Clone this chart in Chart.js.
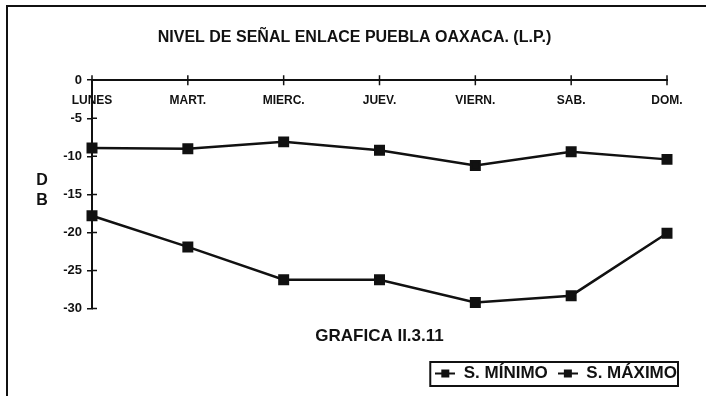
<!DOCTYPE html>
<html>
<head>
<meta charset="utf-8">
<script src="https://cdn.jsdelivr.net/npm/chart.js@4.4.1/dist/chart.umd.min.js"></script>
<style>
  html, body { margin: 0; padding: 0; background: #fff; }
  #wrap { width: 706px; height: 396px; }
</style>
</head>
<body>
<div id="wrap"><canvas id="c" width="706" height="396"></canvas></div>
<script>
// data
const days = ['LUNES', 'MART.', 'MIERC.', 'JUEV.', 'VIERN.', 'SAB.', 'DOM.'];
const sMinimo = [-17.8, -21.9, -26.2, -26.2, -29.2, -28.3, -20.1];
const sMaximo = [-8.9, -9.0, -8.1, -9.2, -11.2, -9.4, -10.4];
const yTicks = [0, -5, -10, -15, -20, -25, -30];

const FONT = "'Liberation Sans', Arial, Helvetica, sans-serif";
const INK = '#111';

// little line + square used as legend marker
function legendMark() {
  const c = document.createElement('canvas');
  c.width = 20; c.height = 10;
  const g = c.getContext('2d');
  g.fillStyle = INK;
  g.fillRect(0, 4, 20, 2);
  g.fillRect(6, 1, 8, 8);
  return c;
}
const mark = legendMark();

// white page, scan frame, "D B" title, crossing ticks, legend box
const decor = {
  id: 'decor',
  beforeDraw(chart) {
    const ctx = chart.ctx;
    ctx.save();
    ctx.fillStyle = '#fff';
    ctx.fillRect(0, 0, chart.width, chart.height);
    ctx.strokeStyle = INK;
    ctx.lineWidth = 2;
    ctx.beginPath();
    ctx.moveTo(7, chart.height);
    ctx.lineTo(7, 6);
    ctx.lineTo(chart.width, 6);
    ctx.stroke();
    ctx.restore();
  },
  afterDraw(chart) {
    const ctx = chart.ctx;
    const y = chart.scales.y;
    const x = chart.scales.x;
    ctx.save();
    ctx.strokeStyle = INK;
    ctx.lineWidth = 1.5;
    ctx.beginPath();
    yTicks.forEach(v => {
      const py = y.getPixelForValue(v);
      ctx.moveTo(y.right, py);
      ctx.lineTo(y.right + 5, py);
    });
    const y0 = y.getPixelForValue(0);
    days.forEach((d, i) => {
      const px = x.getPixelForValue(i);
      ctx.moveTo(px, y0 - 5);
      ctx.lineTo(px, y0 + 5);
    });
    ctx.stroke();

    ctx.fillStyle = INK;
    ctx.font = 'bold 16px ' + FONT;
    ctx.textAlign = 'center';
    ctx.textBaseline = 'middle';
    ctx.fillText('D', 42, 181);
    ctx.fillText('B', 42, 201);

    const boxes = chart.legend.legendHitBoxes;
    if (boxes && boxes.length) {
      const l = Math.min(...boxes.map(b => b.left)) - 5;
      const r = Math.max(...boxes.map(b => b.left + b.width)) + 1;
      const t = Math.min(...boxes.map(b => b.top)) - 3;
      const btm = Math.max(...boxes.map(b => b.top + b.height)) + 4;
      ctx.lineWidth = 2;
      ctx.strokeRect(l, t, r - l, btm - t);
    }
    ctx.restore();
  }
};

const data = {
  labels: days,
  datasets: [
    {
      label: 'S. MÍNIMO',
      data: sMinimo,
      borderColor: INK,
      backgroundColor: INK,
      borderWidth: 2.5,
      pointStyle: 'rect',
      pointRadius: 6,
      tension: 0,
    },
    {
      label: 'S. MÁXIMO',
      data: sMaximo,
      borderColor: INK,
      backgroundColor: INK,
      borderWidth: 2.5,
      pointStyle: 'rect',
      pointRadius: 6,
      tension: 0,
    },
  ],
};

const config = {
  type: 'line',
  data,
  plugins: [decor],
  options: {
    responsive: false,
    animation: false,
    layout: { padding: { left: 22, right: 19, top: 0, bottom: 4 } },
    scales: {
      x: {
        position: { y: 0 },
        offset: false,
        grid: { display: true, drawOnChartArea: false, drawTicks: false },
        border: { display: true, color: INK, width: 2 },
        ticks: {
          color: INK,
          font: { family: FONT, size: 12, weight: 'bold' },
          padding: 13,
          maxRotation: 0,
          autoSkip: false,
        },
      },
      y: {
        min: -30,
        max: 0,
        afterFit: s => { s.width = 70; },
        grid: { drawOnChartArea: false, color: INK, tickLength: 5, lineWidth: 1.5 },
        border: { display: true, color: INK, width: 2 },
        ticks: {
          stepSize: 5,
          color: INK,
          padding: 5,
          font: { family: FONT, size: 13, weight: 'bold' },
        },
      },
      yr: {
        position: 'right',
        display: true,
        afterFit: s => { s.width = 20; },
        grid: { display: false },
        border: { display: false },
        ticks: { display: false },
      },
    },
    plugins: {
      title: {
        display: true,
        text: 'NIVEL DE SEÑAL ENLACE PUEBLA OAXACA. (L.P.)',
        color: INK,
        font: { family: FONT, size: 16, weight: 'bold' },
        padding: { top: 28, bottom: 33 },
      },
      subtitle: {
        display: true,
        position: 'bottom',
        weight: 500,
        fullSize: false,
        text: 'GRAFICA II.3.11',
        color: INK,
        font: { family: FONT, size: 17, weight: 'bold' },
        padding: { top: 18, bottom: 8 },
      },
      legend: {
        position: 'bottom',
        align: 'end',
        labels: {
          color: INK,
          usePointStyle: true,
          pointStyle: mark,
          pointStyleWidth: 20,
          padding: 10,
          font: { family: FONT, size: 17, weight: 'bold' },
          generateLabels: chart => chart.data.datasets.map((ds, i) => ({
            text: ds.label,
            fontColor: INK,
            pointStyle: mark,
            datasetIndex: i,
            hidden: false,
            lineWidth: 0,
          })),
        },
      },
      tooltip: { enabled: false },
    },
  },
};

new Chart(document.getElementById('c'), config);
</script>
</body>
</html>
